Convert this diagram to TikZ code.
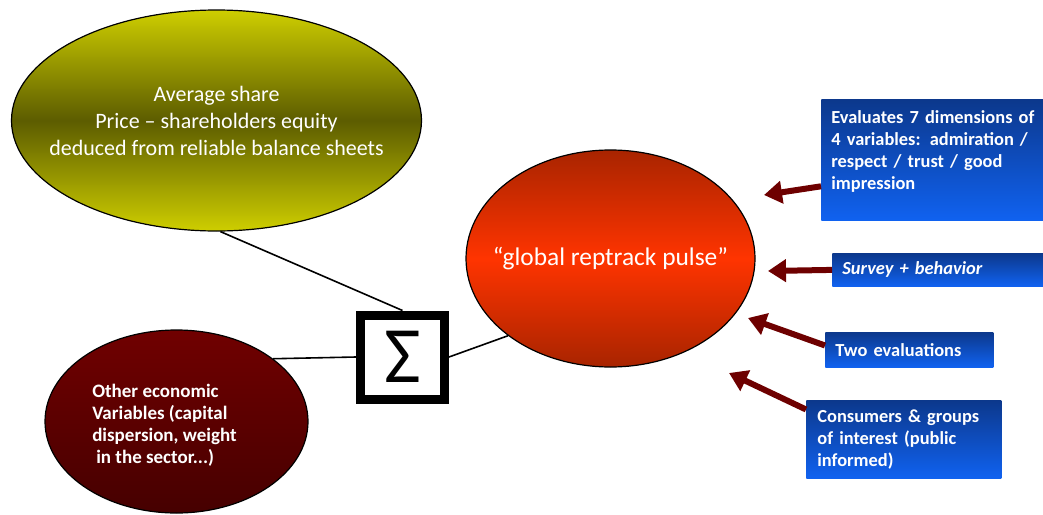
\documentclass[tikz,border=0pt]{standalone}
\usepackage{fontspec}
\setmainfont{Carlito}
\usetikzlibrary{shapes.geometric,arrows.meta}
\definecolor{olivelight}{RGB}{206,206,0}
\definecolor{olivedark}{RGB}{92,92,0}
\definecolor{pulsedark}{RGB}{168,36,0}
\definecolor{pulselight}{RGB}{255,52,0}
\definecolor{maroontop}{RGB}{112,0,0}
\definecolor{maroonbot}{RGB}{70,0,0}
\definecolor{boxtop}{RGB}{12,56,140}
\definecolor{boxbot}{RGB}{16,98,240}
\definecolor{arrowred}{RGB}{110,0,0}
\begin{document}
\begin{tikzpicture}[x=0.5pt,y=-0.5pt]
    \tikzstyle{every node}+=[inner sep=0pt]
    \tikzstyle{bubble}=[ellipse,draw=black,line width=0.6pt]
    \tikzstyle{bubbletext}=[text=white,align=center]
    \tikzstyle{infobox}=[rectangle,anchor=north west,top color=boxtop,bottom color=boxbot,text=white,font=\bfseries\fontsize{9.2}{11}\selectfont,align=left,inner xsep=5pt]
    \tikzstyle{feed}=[draw=arrowred,line width=3pt,-{Triangle[length=9pt,width=11pt]}]
    \tikzstyle{link}=[draw=black,line width=0.8pt]
    \useasboundingbox (0,0) rectangle (1043,514);
    \node [bubble,minimum width=205pt,minimum height=110.5pt,top color=olivelight,bottom color=olivelight,middle color=olivedark,
        label={[bubbletext,font=\fontsize{11}{13.5}\selectfont]center:Average share\\Price -- shareholders equity\\deduced from reliable balance sheets}] (avgshare) at (216.5,120.5) {};
    \node [bubble,minimum width=131.5pt,minimum height=91.5pt,top color=maroontop,bottom color=maroonbot,
        label={[bubbletext,align=left,xshift=-6pt,yshift=-2pt,font=\bfseries\fontsize{9.5}{11}\selectfont]center:Other economic\\Variables (capital\\dispersion, weight\\\hspace{2pt}in the sector...)}] (othervars) at (176.5,421.5) {};
    \node [rectangle,draw=black,line width=4.5pt,fill=white,minimum size=42pt,font=\fontsize{40}{40}\selectfont] (sigma) at (402.5,357) {Σ};
    \node [bubble,minimum width=144.5pt,minimum height=108.5pt,top color=pulsedark,bottom color=pulsedark,middle color=pulselight,
        label={[bubbletext,font=\fontsize{12.7}{15}\selectfont]center:“global reptrack pulse”}] (pulse) at (610.5,258.5) {};
    \node [infobox,minimum width=111pt,minimum height=60.5pt,text width=104pt] (eval) at (821,99) {Evaluates 7 dimensions of\\4 variables: admiration /\\respect / trust / good\\impression\par\vspace{8pt}};
    \node [infobox,minimum width=105.5pt,minimum height=16.5pt,text width=95.5pt,font=\bfseries\itshape\fontsize{9.2}{11}\selectfont] (survey) at (832,253) {Survey + behavior};
    \node [infobox,minimum width=84pt,minimum height=17.5pt,text width=74pt] (twoeval) at (825,332) {Two evaluations};
    \node [infobox,minimum width=97.5pt,minimum height=39pt,text width=86.5pt,inner xsep=5.5pt] (consumers) at (806,400) {Consumers \& groups\\of interest (public\\informed)};
    \draw [link] (avgshare.-88) -- (sigma.north);
    \draw [link] (othervars.33) -- (sigma.west);
    \draw [link] (sigma.east) -- (pulse.217);
    \coordinate (tipa) at (764,195);
    \coordinate (tipb) at (768,271);
    \coordinate (tipc) at (748,318);
    \coordinate (tipd) at (729,373);
    \draw [feed] (eval.193) -- (tipa);
    \draw [feed] (survey.west) -- (tipb);
    \draw [feed] (twoeval.177) -- (tipc);
    \draw [feed] (consumers.163) -- (tipd);
\end{tikzpicture}
\end{document}
